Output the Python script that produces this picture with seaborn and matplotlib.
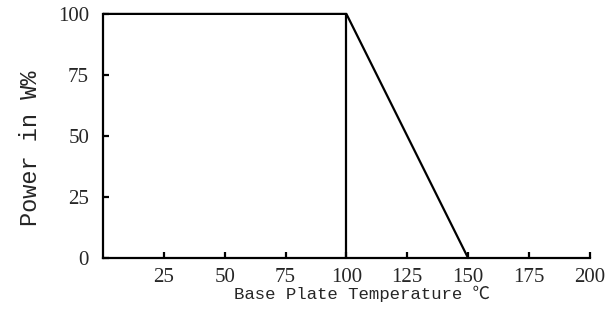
import matplotlib
matplotlib.use('Agg')
import matplotlib.pyplot as plt
import seaborn as sns
import pandas as pd

# Derating curve: full power up to 100 C, linear drop to 0 at 150 C
temp = [0, 100, 150]
power = [100, 100, 0]
# vertical marker at the knee
knee_temp = [100, 100]
knee_power = [0, 100]

x_ticks = [25, 50, 75, 100, 125, 150, 175, 200]
y_ticks = [0, 25, 50, 75, 100]

sns.set_theme(style='ticks')
plt.rcParams['font.family'] = ['Liberation Mono', 'Noto Sans CJK SC', 'DejaVu Sans']

fig = plt.figure(figsize=(6.15, 3.09), dpi=100)
ax = fig.add_axes([0.1675, 0.165, 0.7915, 0.79])

curve = pd.DataFrame({'temp': temp, 'power': power})
knee = pd.DataFrame({'temp': knee_temp, 'power': knee_power})
sns.lineplot(data=curve, x='temp', y='power', sort=False, estimator=None,
             color='black', lw=1.6, ax=ax, clip_on=False)
sns.lineplot(data=knee, x='temp', y='power', sort=False, estimator=None,
             color='black', lw=1.6, ax=ax, clip_on=False)

ax.set_xlim(0, 200)
ax.set_ylim(0, 100)
ax.set_xticks(x_ticks)
ax.set_yticks(y_ticks)
ax.set_xticklabels([str(v) for v in x_ticks], family='Liberation Serif', fontsize=15)
ax.set_yticklabels([str(v) for v in y_ticks], family='Liberation Serif', fontsize=15)
ax.tick_params(direction='in', length=4, width=1.6, color='black', pad=7)
ax.tick_params(axis='y', pad=10)

for side in ['top', 'right']:
    ax.spines[side].set_visible(False)
for side in ['left', 'bottom']:
    ax.spines[side].set_linewidth(1.6)
    ax.spines[side].set_color('black')

ax.set_xlabel('Base Plate Temperature ℃', fontsize=12.5)
ax.set_ylabel('Power in W%', fontsize=17)
ax.xaxis.set_label_coords(0.532, -0.115)
ax.yaxis.set_label_coords(-0.125, 0.45)
ax.grid(False)

fig.savefig('out.png', dpi=100)
